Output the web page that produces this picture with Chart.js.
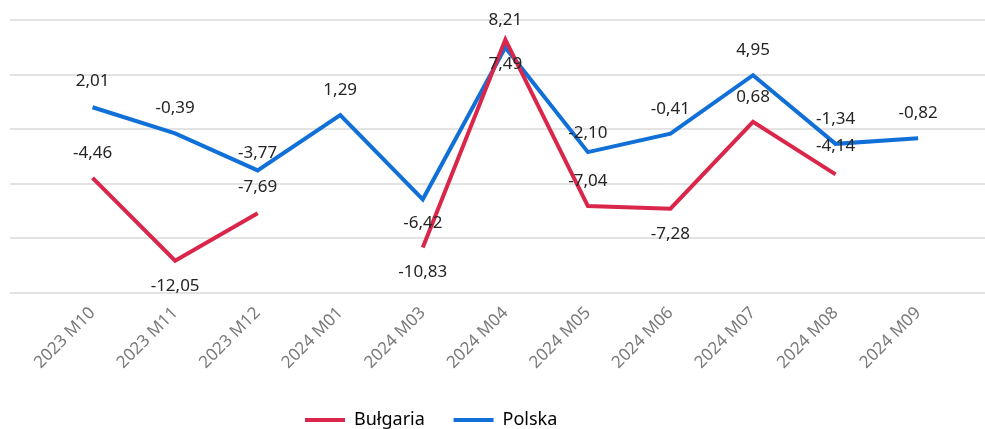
<!DOCTYPE html>
<html><head><meta charset="utf-8">
<script src="https://cdn.jsdelivr.net/npm/chart.js@4/dist/chart.umd.min.js"></script>
<style>html,body{margin:0;padding:0;background:#fff}#wrap{width:985px;height:429px;position:relative}</style>
</head><body><div id="wrap"><canvas id="c"></canvas></div>
<script>
const categories = ['2023 M10','2023 M11','2023 M12','2024 M01','2024 M03','2024 M04','2024 M05','2024 M06','2024 M07','2024 M08','2024 M09'];
const seriesNames = ['Bułgaria','Polska'];
const bulgaria = [-4.46,-12.05,-7.69,null,-10.83,8.21,-7.04,-7.28,0.68,-4.14,null];
const polska = [2.01,-0.39,-3.77,1.29,-6.42,7.49,-2.10,-0.41,4.95,-1.34,-0.82];
const yTicks = [-15,-10,-5,0,5,10];

// label placement (pixels relative to point; negative = above)
const labelOffsets = [
  [-25, 25, -26, 0, 25, -19.5, -25, 25, -25, -28, 0],
  [-26, -25, -17, -25, 24, 17, -19, -25, -25, -25, -25]
];
const fmt = v => v.toFixed(2).replace('.', ',');
const FONT = '"Noto Sans", "Open Sans", sans-serif';
const LEGEND_START_X = 305;

const valueLabels = {
  id: 'valueLabels',
  afterDatasetsDraw(chart, args, opts) {
    const ctx = chart.ctx;
    ctx.save();
    ctx.font = opts.size + 'px ' + FONT;
    ctx.fillStyle = opts.color;
    ctx.textAlign = 'center';
    ctx.textBaseline = 'middle';
    chart.data.datasets.forEach((ds, di) => {
      const meta = chart.getDatasetMeta(di);
      meta.data.forEach((pt, i) => {
        const v = ds.data[i].y;
        if (v == null) return;
        ctx.fillText(fmt(v), pt.x, pt.y + opts.offsets[di][i]);
      });
    });
    ctx.restore();
  }
};

const legendShift = {
  id: 'legendShift',
  afterLayout(chart) {
    const lg = chart.legend;
    if (!lg || !lg.lineWidths) return;
    const pad = lg.options.labels.padding;
    const start = (lg.left + pad + lg.right - lg.lineWidths[0]) / 2;
    const dx = LEGEND_START_X - start;
    lg.left += dx; lg.right += dx;
  }
};

const toPoints = arr => arr.map((v, i) => ({x: i, y: v}));

new Chart(document.getElementById('c'), {
  type: 'line',
  data: {
    datasets: [
      {label: seriesNames[0], data: toPoints(bulgaria), borderColor: '#D9264A', backgroundColor: '#D9264A', borderWidth: 4, pointRadius: 0, tension: 0, spanGaps: false},
      {label: seriesNames[1], data: toPoints(polska), borderColor: '#1170D8', backgroundColor: '#1170D8', borderWidth: 4, pointRadius: 0, tension: 0, spanGaps: false}
    ]
  },
  options: {
    responsive: true,
    maintainAspectRatio: false,
    animation: false,
    events: [],
    layout: {padding: {left: 10, right: 0, top: 20, bottom: -10}},
    scales: {
      x: {
        type: 'linear',
        min: -1,
        max: 10.81,
        grid: {display: false, drawTicks: false},
        border: {display: false},
        afterBuildTicks: s => { s.ticks = categories.map((_, i) => ({value: i})); },
        afterFit: s => { s.height = 108; },
        ticks: {
          autoSkip: false,
          minRotation: 45,
          maxRotation: 45,
          padding: 10,
          color: '#7a7a7a',
          font: {family: FONT, size: 17},
          callback: v => categories[v] ?? ''
        }
      },
      y: {
        min: yTicks[0],
        max: yTicks[yTicks.length - 1],
        afterBuildTicks: s => { s.ticks = yTicks.map(v => ({value: v})); },
        afterFit: s => { s.width = 0; },
        grid: {color: '#e3e3e3', lineWidth: 2, drawTicks: false},
        border: {display: false},
        ticks: {display: false}
      }
    },
    plugins: {
      legend: {
        position: 'bottom',
        labels: {
          boxWidth: 40,
          boxHeight: 4,
          padding: 10,
          color: '#252423',
          font: {family: FONT, size: 18},
          generateLabels: chart => chart.data.datasets.map((ds, i) => ({
            text: i === 0 ? ds.label + '    ' : ds.label,
            fillStyle: ds.borderColor,
            strokeStyle: ds.borderColor,
            lineWidth: 0,
            datasetIndex: i
          }))
        }
      },
      tooltip: {enabled: false},
      valueLabels: {size: 17, color: '#252423', offsets: labelOffsets}
    }
  },
  plugins: [valueLabels, legendShift]
});
</script>
</body></html>
